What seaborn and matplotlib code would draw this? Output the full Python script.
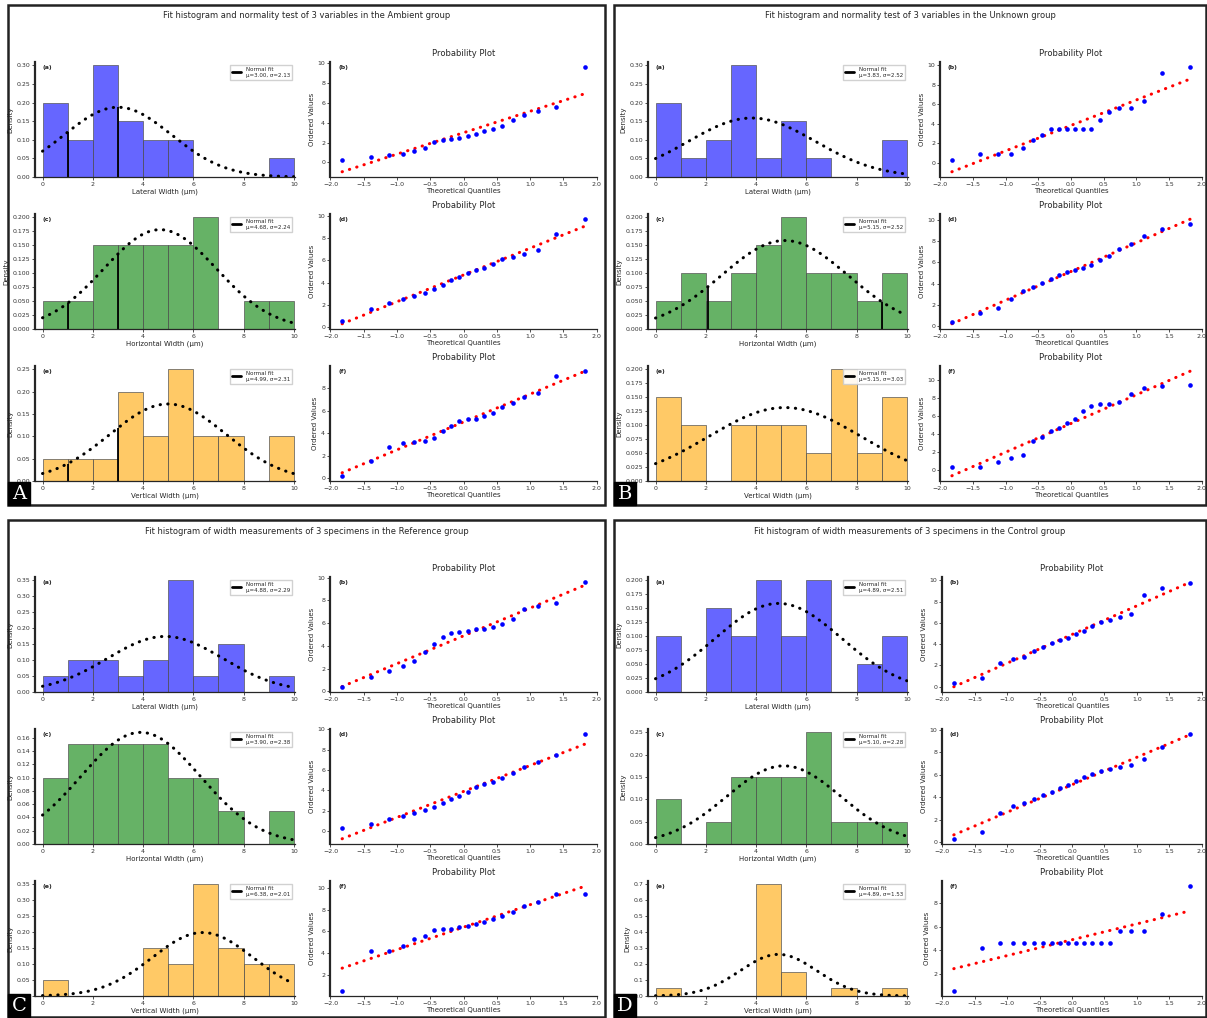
import numpy as np
import matplotlib
matplotlib.use("Agg")
import matplotlib.pyplot as plt
import seaborn as sns
from statistics import NormalDist
from matplotlib.patches import Rectangle
from matplotlib.lines import Line2D

sns.set_style("ticks")
plt.rcParams["font.family"] = ["DejaVu Sans"]

# ---- data: raw measurements per group / variable (histogram bins are 0..10, width 1)
A_lateral = [0.3, 0.6, 0.8, 0.9, 1.2, 1.5, 2.1, 2.3, 2.4, 2.5, 2.7, 2.9, 3.2, 3.4, 3.7, 4.3, 4.8, 5.2, 5.6, 9.6]
A_horizontal = [0.5, 1.6, 2.2, 2.5, 2.8, 3.1, 3.4, 3.8, 4.2, 4.5, 4.9, 5.1, 5.3, 5.7, 6.1, 6.3, 6.6, 6.9, 8.4, 9.7]
A_vertical = [0.2, 1.5, 2.8, 3.1, 3.2, 3.3, 3.6, 4.2, 4.6, 5.1, 5.3, 5.3, 5.5, 5.8, 6.3, 6.7, 7.2, 7.6, 9.1, 9.5]

B_lateral = [0.3, 0.9, 0.9, 0.9, 1.5, 2.3, 2.8, 3.5, 3.5, 3.5, 3.5, 3.5, 3.5, 4.4, 5.2, 5.6, 5.6, 6.3, 9.2, 9.8]
B_horizontal = [0.4, 1.2, 1.7, 2.5, 3.3, 3.7, 4.1, 4.4, 4.8, 5.1, 5.3, 5.5, 5.8, 6.2, 6.6, 7.3, 7.7, 8.5, 9.2, 9.6]
B_vertical = [0.3, 0.3, 0.8, 1.3, 1.6, 3.2, 3.6, 4.3, 4.7, 5.2, 5.6, 6.5, 7.1, 7.3, 7.3, 7.6, 8.4, 9.1, 9.3, 9.5]

C_lateral = [0.4, 1.3, 1.8, 2.2, 2.7, 3.5, 4.2, 4.8, 5.1, 5.2, 5.3, 5.5, 5.5, 5.7, 5.9, 6.4, 7.2, 7.5, 7.8, 9.6]
C_horizontal = [0.3, 0.7, 1.2, 1.5, 1.8, 2.1, 2.4, 2.8, 3.2, 3.5, 3.9, 4.3, 4.6, 4.8, 5.2, 5.7, 6.3, 6.8, 7.5, 9.5]
C_vertical = [0.5, 4.2, 4.2, 4.6, 5.3, 5.6, 6.1, 6.2, 6.2, 6.4, 6.5, 6.7, 6.9, 7.1, 7.4, 7.8, 8.3, 8.7, 9.4, 9.4]

D_lateral = [0.3, 0.8, 2.2, 2.6, 2.8, 3.3, 3.7, 4.1, 4.4, 4.6, 4.9, 5.2, 5.7, 6.1, 6.3, 6.5, 6.8, 8.6, 9.3, 9.7]
D_horizontal = [0.3, 0.9, 2.6, 3.2, 3.5, 3.8, 4.2, 4.5, 4.8, 5.1, 5.4, 5.8, 6.1, 6.3, 6.5, 6.7, 6.9, 7.4, 8.5, 9.6]
D_vertical = [0.6, 4.2, 4.6, 4.6, 4.6, 4.6, 4.6, 4.6, 4.6, 4.6, 4.6, 4.6, 4.6, 4.6, 4.6, 5.6, 5.6, 5.6, 7.1, 9.4]

panel_letters = ["A", "B", "C", "D"]
panel_titles = [
    "Fit histogram and normality test of 3 variables in the Ambient group",
    "Fit histogram and normality test of 3 variables in the Unknown group",
    "Fit histogram of width measurements of 3 specimens in the Reference group",
    "Fit histogram of width measurements of 3 specimens in the Control group",
]
panel_samples = {
    "A": [A_lateral, A_horizontal, A_vertical],
    "B": [B_lateral, B_horizontal, B_vertical],
    "C": [C_lateral, C_horizontal, C_vertical],
    "D": [D_lateral, D_horizontal, D_vertical],
}
row_xlabels = ["Lateral Width (μm)", "Horizontal Width (μm)", "Vertical Width (μm)"]
row_colors = ["blue", "green", "orange"]
row_tags = [("(a)", "(b)"), ("(c)", "(d)"), ("(e)", "(f)")]
# dark marker lines seen on some histograms (x positions)
marker_lines = {("A", 0): [1.0, 3.0], ("A", 1): [1.0, 3.0], ("A", 2): [1.0, 3.0], ("B", 1): [2.1, 9.0]}

# ---- layout (pixels)
W, H = 1207, 1018
panels = {"A": (8, 5, 597, 500), "B": (614, 5, 592, 500),
          "C": (8, 520, 597, 497), "D": (614, 520, 592, 497)}
hist_left = {"A": 27, "B": 34, "C": 27, "D": 34}
qq_left = {"A": 322, "B": 326, "C": 322, "D": 328}
qq_width = {"A": 267, "B": 262, "C": 267, "D": 260}
row_tops = [57, 209, 361]
ax_h = 115
hist_w = 260

fig = plt.figure(figsize=(W / 100, H / 100), dpi=100)


def place(x, y, w, h):
    return fig.add_axes([x / W, 1 - (y + h) / H, w / W, h / H])


def filliben(n):
    m = [(i - 0.3175) / (n + 0.365) for i in range(1, n + 1)]
    m[-1] = 0.5 ** (1 / n)
    m[0] = 1 - m[-1]
    return np.array([NormalDist().inv_cdf(p) for p in m])


def style(ax):
    sns.despine(ax=ax)
    ax.spines["left"].set_linewidth(1.6)
    ax.spines["bottom"].set_linewidth(0.9)
    ax.tick_params(labelsize=4.5, length=2, width=0.6, pad=1.5, colors="#333333")


edges = np.arange(0, 11, 1)
grid = np.linspace(0, 10, 200)

for p, letter in enumerate(panel_letters):
    px, py, pw, ph = panels[letter]
    fig.patches.append(Rectangle((px / W, 1 - (py + ph) / H), pw / W, ph / H,
                                 transform=fig.transFigure, fill=False, lw=1.8, ec="#222222"))
    fig.text((px + pw / 2) / W, 1 - (py + 11) / H, panel_titles[p], ha="center", va="center", fontsize=6)
    # panel letter box
    fig.patches.append(Rectangle((px / W, 1 - (py + ph) / H), 22 / W, 23 / H,
                                 transform=fig.transFigure, fc="black", ec="black", zorder=10))
    fig.text((px + 11) / W, 1 - (py + ph - 11) / H, letter, ha="center", va="center", color="white",
             fontsize=14, family="DejaVu Serif", zorder=11)

    for r, sample in enumerate(panel_samples[letter]):
        vals = np.array(sample)
        mu, sd = vals.mean(), vals.std()
        pdf = np.exp(-0.5 * ((grid - mu) / sd) ** 2) / (sd * np.sqrt(2 * np.pi))

        # histogram + normal fit
        ax = place(px + hist_left[letter], py + row_tops[r], hist_w, ax_h)
        sns.histplot(x=vals, bins=edges, stat="density", color=row_colors[r], alpha=0.6,
                     edgecolor="#555555", linewidth=0.5, ax=ax)
        sns.lineplot(x=grid, y=pdf, color="black", linewidth=2.2, linestyle=(0, (0.1, 2.4)),
                     dash_capstyle="round", ax=ax)
        for xm in marker_lines.get((letter, r), []):
            ym = np.exp(-0.5 * ((xm - mu) / sd) ** 2) / (sd * np.sqrt(2 * np.pi))
            ax.vlines(xm, 0, ym, color="black", lw=1.3)
        top = max(max(b.get_height() for b in ax.patches), pdf.max())
        ax.set_ylim(0, top * 1.03)
        ax.set_xlim(-0.3, 10.05)
        ax.set_xlabel(row_xlabels[r], fontsize=5, labelpad=1)
        ax.set_ylabel("Density", fontsize=5, labelpad=2)
        ax.text(0.03, 0.97, row_tags[r][0], transform=ax.transAxes, fontsize=4.5,
                fontweight="bold", va="top")
        ax.legend(handles=[Line2D([], [], color="black", lw=2)],
                  labels=[f"Normal fit\nμ={mu:.2f}, σ={sd:.2f}"], loc="upper right",
                  fontsize=4, handlelength=1.6, borderpad=0.4, framealpha=0.9,
                  edgecolor="#cccccc", fancybox=False)
        style(ax)

        # probability plot
        theo = filliben(len(vals))
        ordered = np.sort(vals)
        slope, icpt = np.polyfit(theo, ordered, 1)
        qx = place(px + qq_left[letter], py + row_tops[r], qq_width[letter], ax_h)
        sns.lineplot(x=theo, y=slope * theo + icpt, color="red", linewidth=2.2,
                     linestyle=(0, (0.1, 2.4)), dash_capstyle="round", ax=qx)
        sns.scatterplot(x=theo, y=ordered, color="blue", s=11, linewidth=0, ax=qx, zorder=3)
        qx.set_title("Probability Plot", fontsize=6, pad=4)
        qx.set_xlabel("Theoretical Quantiles", fontsize=5, labelpad=1)
        qx.set_ylabel("Ordered Values", fontsize=5, labelpad=2)
        qx.text(0.03, 0.97, row_tags[r][1], transform=qx.transAxes, fontsize=4.5,
                fontweight="bold", va="top")
        style(qx)

fig.savefig("out.png", dpi=100)
